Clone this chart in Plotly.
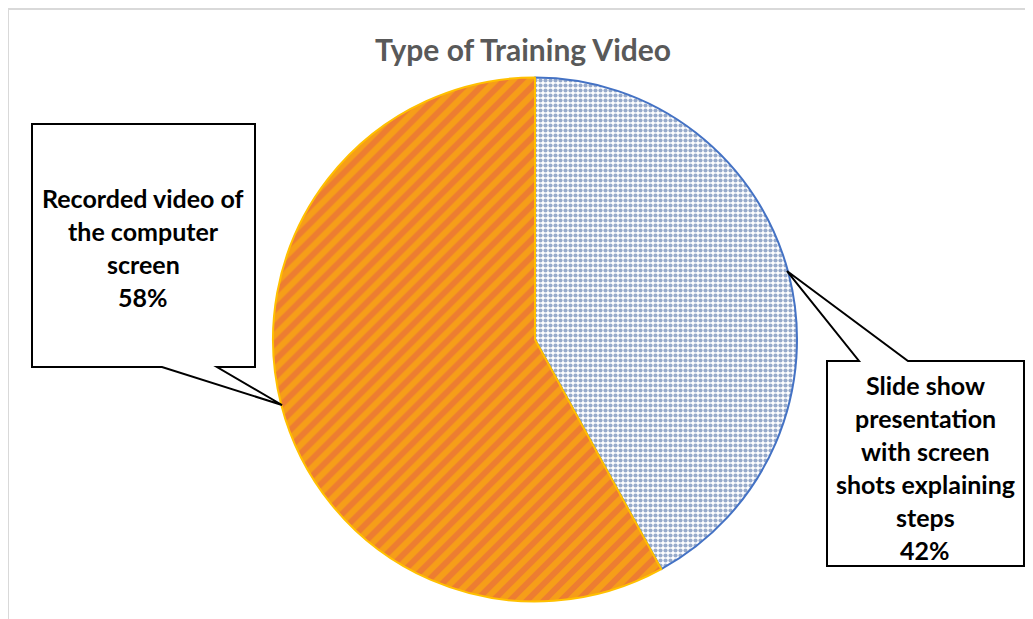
import plotly.graph_objects as go

# ---- data ----
categories = ["Slide show presentation with screen shots explaining steps",
              "Recorded video of the computer screen"]
values = [42, 58]
label_lines = [["Slide show", "presentation", "with screen", "shots explaining", "steps"],
               ["Recorded video of", "the computer", "screen"]]
title_text = "Type of Training Video"

# ---- styling ----
W, H = 1033, 619
OFF = 8  # page body margin
FONT = "Lato"
fill_fg = ["#2F5597", "#FFC000"]
fill_bg = ["#FFFFFF", "#ED7D31"]
pattern_shape = [".", "/"]
pattern_size = [5, 12]
pattern_solid = [0.55, 0.5]
edge_colors = ["#4472C4", "#FFC000"]


def px(x):
    return (x - OFF) / W


def py(y):
    return 1 - (y - OFF) / H


fig = go.Figure()
fig.add_trace(go.Pie(
    labels=categories,
    values=values,
    sort=False,
    direction="clockwise",
    rotation=0,
    textinfo="none",
    hoverinfo="label+percent",
    showlegend=False,
    domain=dict(x=[px(273), px(797)], y=[py(602), py(77)]),
    marker=dict(
        colors=fill_bg,
        line=dict(color=edge_colors, width=2),
        pattern=dict(shape=pattern_shape, fgcolor=fill_fg, bgcolor=fill_bg,
                     size=pattern_size, solidity=pattern_solid, fillmode="overlay"),
    ),
))

shapes = []
# chart frame (left & top edges visible)
shapes.append(dict(type="line", xref="paper", yref="paper", x0=px(8), x1=px(8), y0=py(8), y1=py(640),
                   line=dict(color="#D9D9D9", width=2)))
shapes.append(dict(type="line", xref="paper", yref="paper", x0=px(8), x1=px(1045), y0=py(9), y1=py(9),
                   line=dict(color="#D9D9D9", width=2)))


def path(points):
    return "M " + " L ".join(f"{px(x):.5f},{py(y):.5f}" for x, y in points) + " Z"


# callout for "Recorded video" (left)
left_pts = [(32, 124), (255, 124), (255, 367), (217, 367), (282, 405), (162, 367), (32, 367)]
# callout for "Slide show" (right)
right_pts = [(827, 361), (859, 361), (787, 271), (908, 361), (1024, 361), (1024, 566), (827, 566)]
for pts in (left_pts, right_pts):
    shapes.append(dict(type="path", xref="paper", yref="paper", path=path(pts),
                       fillcolor="white", line=dict(color="black", width=2), layer="above"))

annotations = [dict(text=f"<b>{title_text}</b>", x=px(523), y=py(49), xref="paper", yref="paper",
                    showarrow=False, xanchor="center", yanchor="middle",
                    font=dict(family=FONT, size=30, color="#595959"))]

callout_pos = [(925, 385), (143, 198)]  # (center x, first-line y)
line_gap = 33
total = sum(values)
for lines, v, (cx, cy) in zip(label_lines, values, callout_pos):
    all_lines = lines + [f"{round(100 * v / total)}%"]
    for i, t in enumerate(all_lines):
        annotations.append(dict(text=f"<b>{t}</b>", x=px(cx), y=py(cy + i * line_gap),
                                xref="paper", yref="paper", showarrow=False,
                                xanchor="center", yanchor="middle",
                                font=dict(family=FONT, size=25, color="black")))

fig.update_layout(
    width=W, height=H,
    margin=dict(l=0, r=0, t=0, b=0),
    paper_bgcolor="white", plot_bgcolor="white",
    shapes=shapes, annotations=annotations,
)

fig.write_html("out.html")
